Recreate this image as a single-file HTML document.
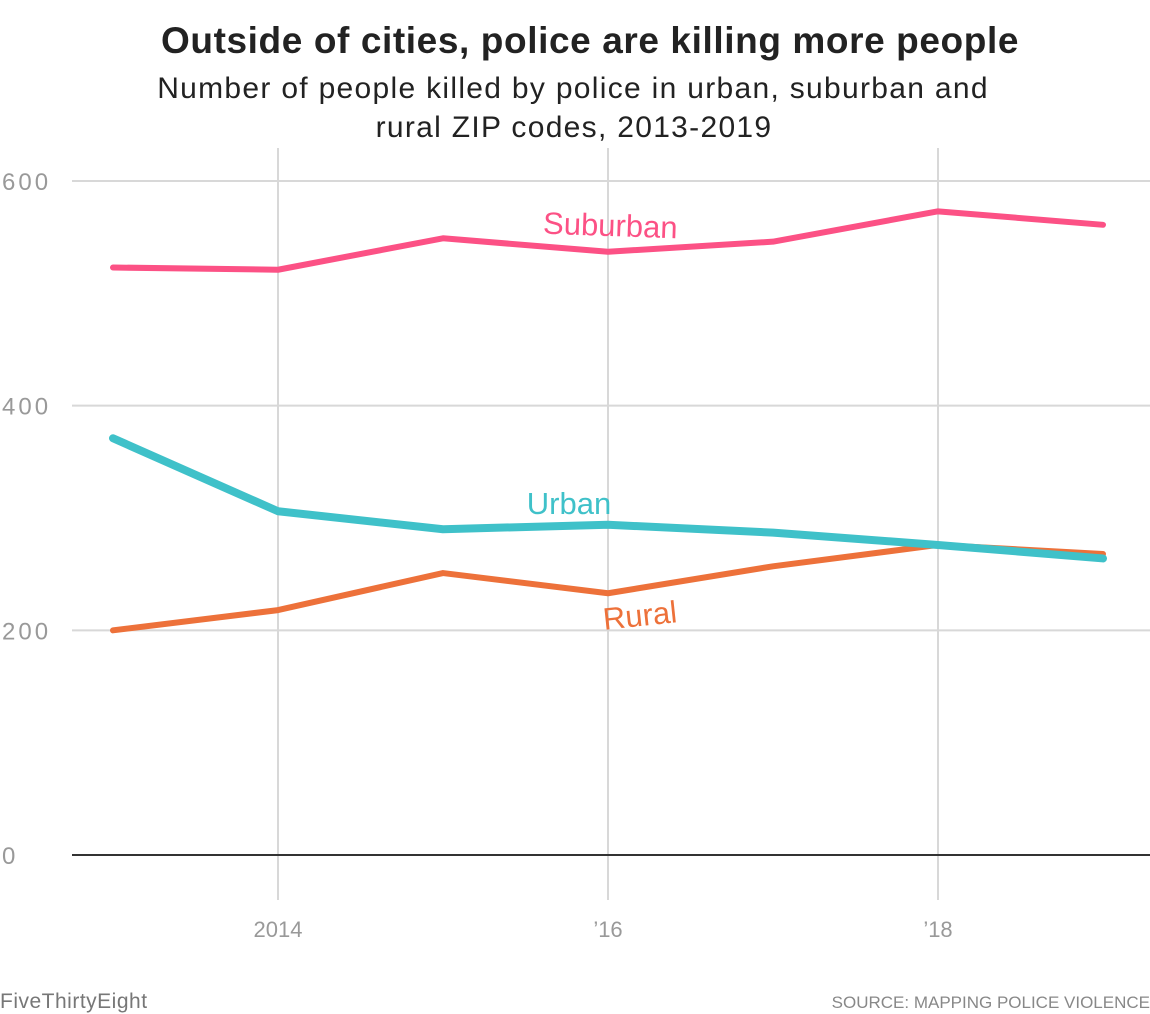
<!DOCTYPE html>
<html><head><meta charset="utf-8"><style>
body{margin:0;background:#fff;width:1150px;height:1014px;overflow:hidden;font-family:"Liberation Sans",sans-serif}
svg{display:block}
</style></head><body>
<svg width="1150" height="1014">
<text x="590" y="53" text-anchor="middle" font-size="37" font-weight="bold" letter-spacing="0.6" fill="#222">Outside of cities, police are killing more people</text>
<text x="573" y="98" text-anchor="middle" font-size="30" letter-spacing="1.3" fill="#222">Number of people killed by police in urban, suburban and</text>
<text x="574" y="137" text-anchor="middle" font-size="30" letter-spacing="1.3" fill="#222">rural ZIP codes, 2013-2019</text>
<g id="grid"></g><g id="marks"></g>
<text x="0" y="1008" font-size="21" letter-spacing="0.5" fill="#777">FiveThirtyEight</text>
<text x="1150" y="1008" text-anchor="end" font-size="17" fill="#888">SOURCE: MAPPING POLICE VIOLENCE</text>
</svg>
<script>
const years=[2013,2014,2015,2016,2017,2018,2019];
const suburban=[523,521,549,537,546,573,561];
const urban=[371,306,290,294,287,276,264];
const rural=[200,218,251,233,257,276,268];
const yTicks=[0,200,400,600];
const xTicks=[2014,2016,2018];
const xTickLabels=["2014","\u201916","\u201918"];
const NS="http://www.w3.org/2000/svg";
const x=v=>113+(v-2013)*165;
const y=v=>855-v*(674/600);
const grid=document.getElementById('grid'),marks=document.getElementById('marks');
function mk(tag,a,p){const e=document.createElementNS(NS,tag);for(const k in a)e.setAttribute(k,a[k]);p.appendChild(e);return e;}
xTicks.forEach((t,i)=>{
 const l=mk('line',{x1:x(t),x2:x(t),y1:148,y2:900,stroke:'#d8d8d8','stroke-width':2},grid);
 
 
 const tx=mk('text',{x:x(t),y:937,'text-anchor':'middle','font-size':22,fill:'#999'},grid);
 tx.textContent=xTickLabels[i];
 
 
});
yTicks.forEach(t=>{
 const l=mk('line',{x1:72,x2:1150,y1:y(t),y2:y(t),stroke:t===0?'#333':'#d8d8d8','stroke-width':2},grid);
 
 
 const tx=mk('text',{x:2,y:y(t)+9,'font-size':24,fill:'#999','letter-spacing':3},grid);
 tx.textContent=t;
 
 
});
function series(vals,col,w,name){
 const p=mk('polyline',{points:vals.map((v,i)=>x(years[i])+','+y(v)).join(' '),fill:'none',stroke:col,'stroke-width':w,'stroke-linejoin':'round','stroke-linecap':'round'},marks);
 
 
}
series(rural,'#ed713a',6,'rural-line');
series(suburban,'#fc5185',6,'suburban-line');
series(urban,'#3fc1c9',8,'urban-line');
function lab(t,cx,cy,rot,col,name){
 const e=mk('text',{x:cx,y:cy,'text-anchor':'middle','font-size':31,fill:col,transform:`rotate(${rot} ${cx} ${cy})`},marks);
 e.textContent=t;
 
 
}
lab('Suburban',610,236,2,'#fc5185','suburban-label');
lab('Urban',569,514,0,'#3fc1c9','urban-label');
lab('Rural',641,626,-6,'#ed713a','rural-label');
</script>
</body></html>
